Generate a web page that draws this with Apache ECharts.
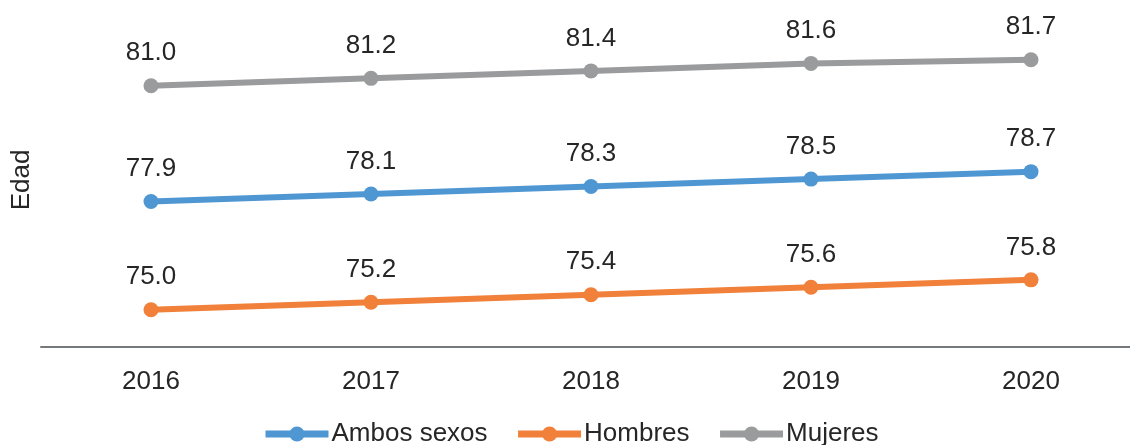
<!DOCTYPE html>
<html>
<head>
<meta charset="utf-8">
<script src="https://cdn.jsdelivr.net/npm/echarts@6/dist/echarts.min.js"></script>
<style>
html,body{margin:0;padding:0;background:#fff;}
#chart{width:1130px;height:445px;}
</style>
</head>
<body>
<div id="chart"></div>
<script>
const years = ['2016', '2017', '2018', '2019', '2020'];
const ambosSexos = [77.9, 78.1, 78.3, 78.5, 78.7];
const hombres = [75.0, 75.2, 75.4, 75.6, 75.8];
const mujeres = [81.0, 81.2, 81.4, 81.6, 81.7];
const seriesNames = ['Ambos sexos', 'Hombres', 'Mujeres'];
const axisTitle = 'Edad';

const FONT = '"Liberation Sans", Arial, sans-serif';
const TXT = '#262626';
const colors = ['#4F97D3', '#F0803A', '#9A9B9C'];

function mk(name, data, color) {
  return {
    name: name,
    type: 'line',
    data: data,
    symbol: 'circle',
    symbolSize: 15,
    color: color,
    lineStyle: { width: 6, color: color },
    itemStyle: { color: color },
    label: {
      show: true,
      position: 'top',
      distance: 12,
      formatter: p => p.value.toFixed(1),
      fontFamily: FONT,
      fontSize: 26,
      color: TXT
    },
    emphasis: { disabled: true },
    animation: false
  };
}

const chart = echarts.init(document.getElementById('chart'), null, { renderer: 'canvas' });
chart.setOption({
  animation: false,
  backgroundColor: '#fff',
  grid: { left: 41, width: 1100, top: 48.5, height: 298.5, containLabel: false, outerBoundsMode: 'none' },
  xAxis: {
    type: 'category',
    data: years,
    boundaryGap: true,
    axisLine: { show: true, lineStyle: { color: '#76797C', width: 2 } },
    axisTick: { show: false },
    axisLabel: { fontFamily: FONT, fontSize: 26, color: TXT, margin: 22 }
  },
  yAxis: {
    type: 'value',
    min: 74,
    max: 82,
    interval: 1,
    axisLine: { show: false },
    axisTick: { show: false },
    axisLabel: { show: false },
    splitLine: { show: false }
  },
  legend: {
    data: seriesNames,
    left: 262,
    top: 421,
    itemWidth: 63,
    itemHeight: 19,
    itemGap: 27,
    padding: 0,
    lineStyle: { width: 7 },
    textStyle: { fontFamily: FONT, fontSize: 26, color: TXT, padding: [0, 0, 0, -2] }
  },
  graphic: [{
    type: 'text',
    x: 22,
    y: 180,
    rotation: Math.PI / 2,
    style: {
      text: axisTitle,
      fontFamily: FONT,
      fontSize: 26,
      fill: TXT,
      align: 'center',
      verticalAlign: 'middle'
    }
  }],
  series: [
    mk(seriesNames[0], ambosSexos, colors[0]),
    mk(seriesNames[1], hombres, colors[1]),
    mk(seriesNames[2], mujeres, colors[2])
  ]
});
</script>
</body>
</html>
